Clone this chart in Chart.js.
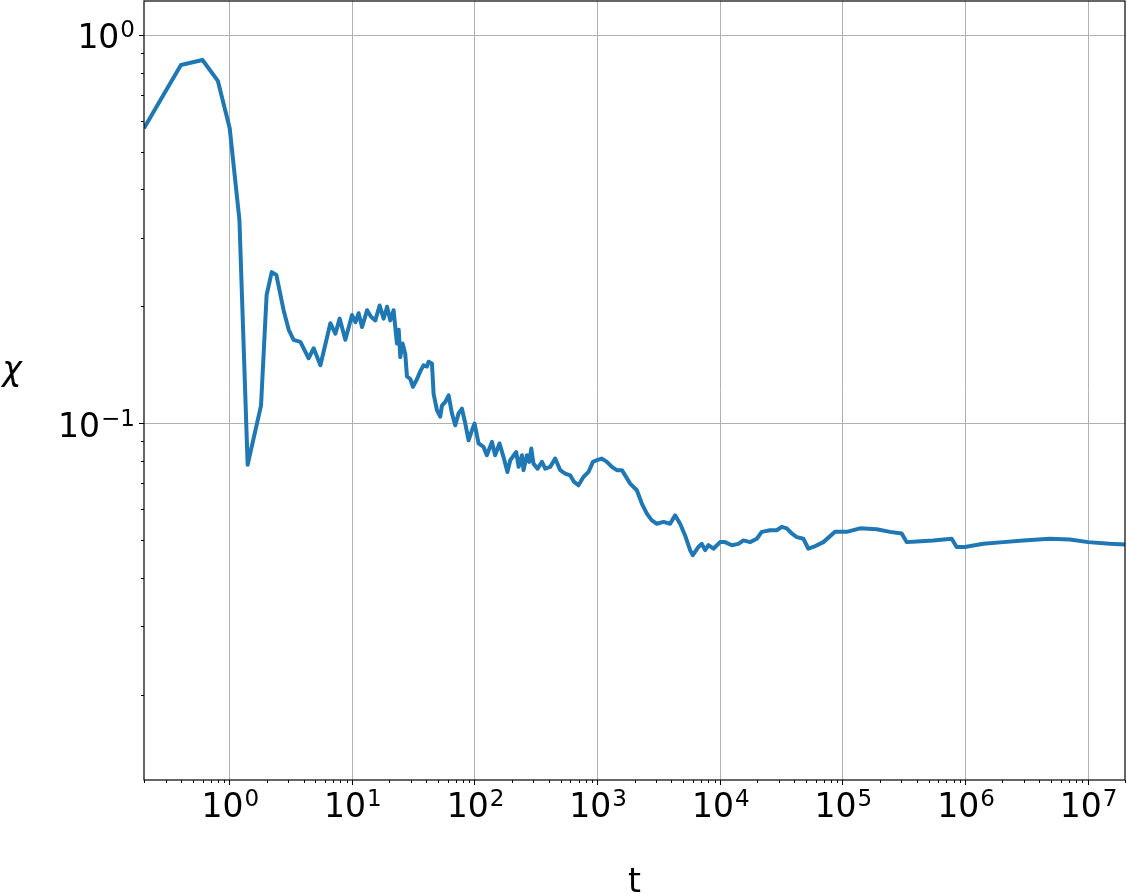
<!DOCTYPE html>
<html>
<head>
<meta charset="utf-8">
<script src="https://cdn.jsdelivr.net/npm/chart.js@4.4.1/dist/chart.umd.min.js"></script>
<style>
  html, body { margin: 0; padding: 0; background: #fff; }
  canvas { display: block; }
</style>
</head>
<body>
<canvas id="chiChart" width="1127" height="894"></canvas>
<script>
// time values (log axis)
const T = [
  0.2, 0.4, 0.6, 0.8, 1.0, 1.2, 1.4, 1.8, 2.0, 2.2, 2.4, 2.75, 3.03, 3.32, 3.77, 4.4, 4.84, 5.49,
  6.62, 7.27, 7.88, 8.77, 9.94, 10.6, 11.25, 12.0, 13.2, 14.2, 15.4, 16.7, 18.0, 19.2, 20.4, 21.7,
  23.1, 23.9, 24.6, 25.7, 27.0, 27.9, 29.7, 31.2, 33.7, 35.8, 38.1, 40.6, 41.9, 44.6, 46.0, 49.0,
  52.1, 53.8, 57.3, 61.0, 64.9, 69.1, 73.5, 78.3, 83.4, 88.7, 94.5, 99.3, 107, 117.5, 125, 137.6,
  146, 158.5, 171, 184, 194, 217, 227, 241.5, 249, 265, 277, 288, 300, 324, 352, 374, 411, 451,
  495.5, 544.5, 598, 644, 698, 767, 843, 916, 986, 1084, 1191, 1308, 1436, 1578, 1679, 1844, 2090,
  2296, 2523, 2770, 3042, 3446, 3906, 4288, 4710, 5172, 5683, 5977, 6643, 7080, 7534, 8017, 8803,
  9975, 10960, 12430, 14070, 15450, 17520, 19870, 21830, 25510, 28910, 31770, 34900, 38340, 42100,
  47660, 52360, 57500, 69370, 86330, 107600, 138000, 188800, 242500, 302000, 331600, 400000,
  546800, 772000, 847000, 990000, 1.4e6, 2.03e6, 2.96e6, 4.88e6, 7.1e6, 1.0e7, 1.5e7, 2.0e7
];

// chi values
const CHI = [
  0.575, 0.837, 0.862, 0.762, 0.575, 0.334, 0.0782, 0.111, 0.214, 0.245, 0.241, 0.1955, 0.174, 0.164, 0.162, 0.147, 0.156, 0.141,
  0.181, 0.170, 0.186, 0.164, 0.190, 0.182, 0.192, 0.177, 0.1955, 0.188, 0.184, 0.201, 0.186, 0.1995, 0.184, 0.1955,
  0.1605, 0.174, 0.148, 0.1605, 0.151, 0.132, 0.130, 0.124, 0.130, 0.136, 0.141, 0.140, 0.144, 0.1425, 0.119, 0.108,
  0.104, 0.111, 0.1135, 0.118, 0.106, 0.0988, 0.106, 0.109, 0.0998, 0.0904, 0.0959, 0.0998, 0.0887, 0.0869, 0.0827, 0.0895,
  0.0827, 0.0887, 0.0818, 0.0749, 0.0803, 0.0843, 0.0772, 0.0827, 0.0757, 0.0827, 0.0795, 0.0861, 0.0787, 0.0764, 0.0795, 0.0764, 0.0772, 0.0811,
  0.0757, 0.0742, 0.0734, 0.0706, 0.0692, 0.0727, 0.0749, 0.0795, 0.0803, 0.0811, 0.0795, 0.0772, 0.0757, 0.0757, 0.0734, 0.0699, 0.0672,
  0.0621, 0.0585, 0.0562, 0.0551, 0.0557, 0.0551, 0.0579, 0.0551, 0.0514, 0.0471, 0.0457, 0.0480, 0.0489, 0.0471, 0.0485, 0.0475,
  0.0494, 0.0494, 0.0485, 0.0489, 0.0499, 0.0494, 0.0504, 0.0525, 0.0530, 0.0530, 0.0541, 0.0536, 0.0520, 0.0509,
  0.0504, 0.0475, 0.0480, 0.0494, 0.0525, 0.0525, 0.0536, 0.0533, 0.0525, 0.0520, 0.0494, 0.0496,
  0.0499, 0.0504, 0.0480, 0.0480, 0.0489, 0.0494, 0.0499, 0.0504, 0.0502, 0.0494, 0.0489, 0.0487
];

// decade ticks, labelled 10^exp
const X_TICKS = [1, 10, 100, 1e3, 1e4, 1e5, 1e6, 1e7];
const X_TICK_EXP = ['0', '1', '2', '3', '4', '5', '6', '7'];
const Y_TICKS = [0.1, 1];
const Y_TICK_EXP = ['\u22121', '0'];

const FONT = 'DejaVu Sans';
const BASE_FONT = `33px "${FONT}"`;
const EXP_FONT = `23px "${FONT}"`;

function minorValues(min, max) {
  const out = [];
  for (let d = Math.floor(Math.log10(min)); d <= Math.ceil(Math.log10(max)); d++) {
    for (let k = 2; k <= 9; k++) {
      const v = k * Math.pow(10, d);
      if (v >= min && v <= max) out.push(v);
    }
  }
  return out;
}

// draws "10" with a raised exponent, like matplotlib's mathtext
function drawPow(ctx, exp, x, baseline, align) {
  ctx.font = BASE_FONT;
  const wb = ctx.measureText('10').width;
  ctx.font = EXP_FONT;
  const we = ctx.measureText(exp).width;
  const start = align === 'center' ? x - (wb + we) / 2 : x - (wb + we);
  ctx.font = BASE_FONT;
  ctx.fillText('10', start, baseline);
  ctx.font = EXP_FONT;
  ctx.fillText(exp, start + wb + 1, baseline - 11);
}

const decorPlugin = {
  id: 'decor',
  afterDraw(chart) {
    const { ctx, chartArea: a, scales: { x, y } } = chart;
    ctx.save();
    ctx.strokeStyle = '#000';
    ctx.lineWidth = 1;
    minorValues(x.min, x.max).forEach(v => {
      const px = Math.round(x.getPixelForValue(v)) + 0.5;
      ctx.beginPath();
      ctx.moveTo(px, a.bottom);
      ctx.lineTo(px, a.bottom + 3);
      ctx.stroke();
    });
    minorValues(y.min, y.max).forEach(v => {
      const py = Math.round(y.getPixelForValue(v)) + 0.5;
      ctx.beginPath();
      ctx.moveTo(a.left - 3, py);
      ctx.lineTo(a.left, py);
      ctx.stroke();
    });
    ctx.lineWidth = 1.2;
    ctx.strokeRect(a.left, a.top, a.right - a.left, a.bottom - a.top);

    ctx.fillStyle = '#000';
    ctx.textAlign = 'left';
    ctx.textBaseline = 'alphabetic';
    X_TICKS.forEach((v, i) => drawPow(ctx, X_TICK_EXP[i], x.getPixelForValue(v), a.bottom + 37, 'center'));
    Y_TICKS.forEach((v, i) => drawPow(ctx, Y_TICK_EXP[i], a.left - 10, y.getPixelForValue(v) + 13.4, 'right'));

    ctx.textAlign = 'center';
    ctx.font = BASE_FONT;
    ctx.fillText('t', (a.left + a.right) / 2, 892);
    ctx.font = `italic 33px "${FONT}"`;
    ctx.fillText('\u03c7', 12, 380);
    ctx.restore();
  }
};

new Chart(document.getElementById('chiChart'), {
  type: 'line',
  data: {
    datasets: [{
      data: T.map((t, i) => ({ x: t, y: CHI[i] })),
      borderColor: '#1f77b4',
      borderWidth: 4,
      borderJoinStyle: 'round',
      pointRadius: 0,
      fill: false,
      tension: 0,
      clip: 0
    }]
  },
  options: {
    responsive: false,
    animation: false,
    layout: { padding: { top: 1, right: 2, left: 0, bottom: 0 } },
    plugins: { legend: { display: false }, tooltip: { enabled: false } },
    scales: {
      x: {
        type: 'logarithmic',
        min: 0.2,
        max: 2e7,
        afterBuildTicks: s => { s.ticks = X_TICKS.map(v => ({ value: v })); },
        afterFit: s => { s.height = 114; s.paddingLeft = 0; s.paddingRight = 0; },
        border: { display: false },
        grid: { color: '#b0b0b0', lineWidth: 1, tickLength: 5, tickColor: '#000', tickWidth: 1 },
        ticks: { display: false, autoSkip: false }
      },
      y: {
        type: 'logarithmic',
        min: 0.01205,
        max: 1.2235,
        afterBuildTicks: s => { s.ticks = Y_TICKS.map(v => ({ value: v })); },
        afterFit: s => { s.width = 144; s.paddingTop = 0; s.paddingBottom = 0; },
        border: { display: false },
        grid: { color: '#b0b0b0', lineWidth: 1, tickLength: 5, tickColor: '#000', tickWidth: 1 },
        ticks: { display: false, autoSkip: false }
      }
    }
  },
  plugins: [decorPlugin]
});
</script>
</body>
</html>
